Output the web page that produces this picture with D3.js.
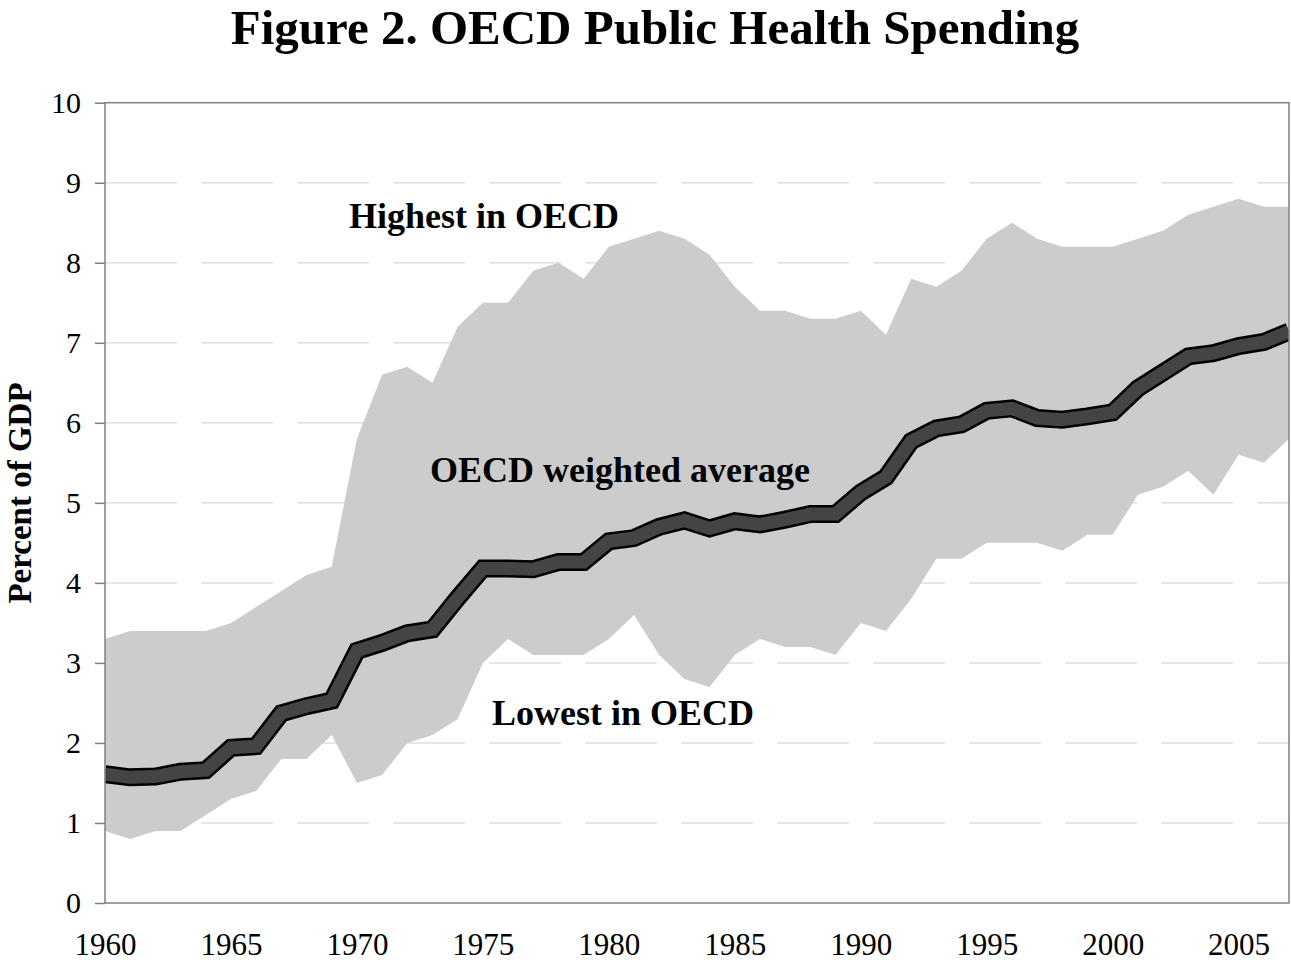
<!DOCTYPE html>
<html>
<head>
<meta charset="utf-8">
<script src="https://cdn.jsdelivr.net/npm/d3@7/dist/d3.min.js"></script>
<style>
    body { margin: 0; background: #fff; }
    svg text { font-family: "Liberation Serif", "Times New Roman", serif; fill: #000; }
    .title { font-size: 49px; font-weight: bold; }
    .yTitle { font-size: 33px; font-weight: bold; }
    .note { font-size: 36px; font-weight: bold; }
    .axis text { font-size: 31px; }
    .y.axis text { font-size: 30px; }
    .axis line { stroke: #808080; stroke-width: 1.5; }
    .gridLine { stroke: #e0e0e0; stroke-width: 1.5; stroke-dasharray: 72, 24; }
</style>
</head>
<body>
<div id="chart"></div>
<script>
    // years 1960 .. 2007
    var years = d3.range(1960, 2008);

    var highest = [3.3, 3.4, 3.4, 3.4, 3.4, 3.5, 3.7, 3.9, 4.1, 4.2,
        5.8, 6.6, 6.7, 6.5, 7.2, 7.5, 7.5, 7.9, 8.0, 7.8,
        8.2, 8.3, 8.4, 8.3, 8.1, 7.7, 7.4, 7.4, 7.3, 7.3,
        7.4, 7.1, 7.8, 7.7, 7.9, 8.3, 8.5, 8.3, 8.2, 8.2,
        8.2, 8.3, 8.4, 8.6, 8.7, 8.8, 8.7, 8.7];

    var lowest = [0.9, 0.8, 0.9, 0.9, 1.1, 1.3, 1.4, 1.8, 1.8, 2.1,
        1.5, 1.6, 2.0, 2.1, 2.3, 3.0, 3.3, 3.1, 3.1, 3.1,
        3.3, 3.6, 3.1, 2.8, 2.7, 3.1, 3.3, 3.2, 3.2, 3.1,
        3.5, 3.4, 3.8, 4.3, 4.3, 4.5, 4.5, 4.5, 4.4, 4.6,
        4.6, 5.1, 5.2, 5.4, 5.1, 5.6, 5.5, 5.8];

    var average = [1.61, 1.57, 1.58, 1.64, 1.66, 1.94, 1.96, 2.37, 2.46, 2.53,
        3.15, 3.25, 3.37, 3.42, 3.81, 4.18, 4.18, 4.17, 4.26, 4.26,
        4.52, 4.56, 4.70, 4.78, 4.68, 4.77, 4.73, 4.79, 4.86, 4.86,
        5.13, 5.32, 5.77, 5.93, 5.98, 6.15, 6.18, 6.06, 6.04, 6.08,
        6.13, 6.43, 6.63, 6.83, 6.87, 6.96, 7.01, 7.14];

    var xTicks = [1960, 1965, 1970, 1975, 1980, 1985, 1990, 1995, 2000, 2005];
    var yTicks = [0, 1, 2, 3, 4, 5, 6, 7, 8, 9, 10];

    var width = 1291;
    var height = 963;
    var marginLeft = 105;
    var marginRight = 2;
    var marginTop = 102.7;
    var marginBottom = 60;

    var x = d3.scaleLinear()
        .domain([1960, 2007])
        .range([marginLeft, width - marginRight]);

    var y = d3.scaleLinear()
        .domain([0, 10])
        .range([height - marginBottom, marginTop]);

    var svg = d3.select("#chart").append("svg")
        .attr("width", width)
        .attr("height", height);

    var data = years.map(function (yr, i) {
        return { year: yr, hi: highest[i], lo: lowest[i], avg: average[i] };
    });

    svg.append("clipPath")
        .attr("id", "plotClip")
        .append("rect")
        .attr("x", x(1960))
        .attr("y", y(10))
        .attr("width", x(2007) - x(1960))
        .attr("height", y(0) - y(10));

    // grid
    svg.append("g").selectAll(".gridLine")
        .data(yTicks.slice(1, -1))
        .enter()
        .append("line")
        .attr("class", "gridLine")
        .attr("x1", x(1960))
        .attr("x2", x(2007))
        .attr("y1", function (d) { return y(d); })
        .attr("y2", function (d) { return y(d); });

    var band = d3.area()
        .x(function (d) { return x(d.year); })
        .y0(function (d) { return y(d.lo); })
        .y1(function (d) { return y(d.hi); });

    svg.append("path")
        .datum(data)
        .attr("d", band)
        .attr("fill", "#cccccc");

    var avgLine = d3.line()
        .x(function (d) { return x(d.year); })
        .y(function (d) { return y(d.avg); });

    var lineWrap = svg.append("g").attr("clip-path", "url(#plotClip)");
    lineWrap.append("path")
        .datum(data)
        .attr("d", avgLine)
        .attr("fill", "none")
        .attr("stroke", "#000")
        .attr("stroke-width", 18);
    lineWrap.append("path")
        .datum(data)
        .attr("d", avgLine)
        .attr("fill", "none")
        .attr("stroke", "#444444")
        .attr("stroke-width", 13);

    // frame
    svg.append("rect")
        .attr("x", x(1960))
        .attr("y", y(10))
        .attr("width", x(2007) - x(1960))
        .attr("height", y(0) - y(10))
        .attr("fill", "none")
        .attr("stroke", "#808080")
        .attr("stroke-width", 1.5);

    var yAxis = d3.axisLeft(y)
        .tickValues(yTicks)
        .tickSize(10)
        .tickPadding(14)
        .tickFormat(d3.format("d"));

    svg.append("g")
        .attr("class", "y axis")
        .attr("transform", "translate(" + x(1960) + ",0)")
        .call(yAxis)
        .call(function (g) { g.select(".domain").remove(); });

    var xAxis = d3.axisBottom(x)
        .tickValues(xTicks)
        .tickSize(0)
        .tickPadding(30)
        .tickFormat(d3.format("d"));

    svg.append("g")
        .attr("class", "x axis")
        .attr("transform", "translate(0," + y(0) + ")")
        .call(xAxis)
        .call(function (g) { g.select(".domain").remove(); });

    svg.append("text")
        .attr("class", "title")
        .attr("x", 655)
        .attr("y", 44)
        .attr("text-anchor", "middle")
        .text("Figure 2. OECD Public Health Spending");

    svg.append("text")
        .attr("class", "yTitle")
        .attr("transform", "translate(31," + 493 + ") rotate(-90)")
        .attr("text-anchor", "middle")
        .text("Percent of GDP");

    svg.append("text").attr("class", "note")
        .attr("x", 349).attr("y", 228)
        .text("Highest in OECD");
    svg.append("text").attr("class", "note")
        .attr("x", 430).attr("y", 482)
        .text("OECD weighted average");
    svg.append("text").attr("class", "note")
        .attr("x", 492).attr("y", 725)
        .text("Lowest in OECD");
</script>
</body>
</html>
